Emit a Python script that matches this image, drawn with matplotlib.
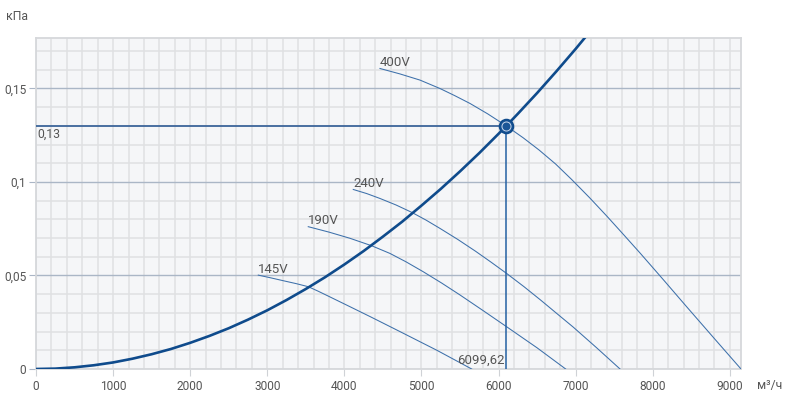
import numpy as np
import matplotlib
matplotlib.use("Agg")
import matplotlib.pyplot as plt
from matplotlib.ticker import MultipleLocator, FuncFormatter

plt.rcParams["font.family"] = ["Roboto", "DejaVu Sans"]

# ── Data ──────────────────────────────────────────────────────────────────────

# system (network) curve, m3/h vs kPa
sys_q = [0, 250, 500, 750, 1000, 1250, 1500, 1750, 2000, 2250, 2500, 2750,
         3000, 3250, 3500, 3750, 4000, 4250, 4500, 4750, 5000, 5250, 5500,
         5750, 6000, 6099.62, 6250, 6500, 6750, 7000, 7250]
sys_p = [0, 0.0002, 0.0009, 0.0020, 0.0035, 0.0055, 0.0079, 0.0107, 0.0140,
         0.0177, 0.0218, 0.0264, 0.0314, 0.0369, 0.0428, 0.0491, 0.0559,
         0.0631, 0.0708, 0.0788, 0.0874, 0.0963, 0.1057, 0.1155, 0.1258,
         0.1300, 0.1365, 0.1476, 0.1592, 0.1712, 0.1837]

# fan curves for each voltage
q_400 = [4461, 4720, 4980, 5239, 5430, 5629, 5860, 6099.62, 6320, 6525,
         6740, 6951, 7180, 7405, 7620, 7833, 8140, 8443, 8800, 9144]
p_400 = [0.1607, 0.1578, 0.1545, 0.1500, 0.1462, 0.1420, 0.1364, 0.1300,
         0.1236, 0.1171, 0.1096, 0.1012, 0.0916, 0.0817, 0.0719, 0.0621,
         0.0476, 0.0331, 0.0162, 0.0]

q_240 = [4115, 4290, 4461, 4670, 4872, 5060, 5239, 5470, 5700, 5900, 6104,
         6330, 6550, 6760, 6968, 7270, 7575]
p_240 = [0.0960, 0.0938, 0.0912, 0.0877, 0.0838, 0.0796, 0.0752, 0.0693,
         0.0630, 0.0572, 0.0511, 0.0440, 0.0367, 0.0295, 0.0224, 0.0114, 0.0]

q_190 = [3531, 3800, 4072, 4354, 4591, 4800, 5023, 5260, 5499, 5800, 6104,
         6500, 6870]
p_190 = [0.0761, 0.0732, 0.0699, 0.0659, 0.0618, 0.0573, 0.0520, 0.0460,
         0.0396, 0.0312, 0.0226, 0.0113, 0.0]

q_145 = [2883, 3050, 3208, 3380, 3532, 3660, 3800, 4073, 4354, 4721, 5200,
         5651]
p_145 = [0.0502, 0.0487, 0.0472, 0.0456, 0.0440, 0.0416, 0.0388, 0.0333,
         0.0276, 0.0200, 0.0100, 0.0]

fan_curves = [("400V", q_400, p_400), ("240V", q_240, p_240),
              ("190V", q_190, p_190), ("145V", q_145, p_145)]

# operating point
op_q = 6099.62
op_p = 0.13

text_col = "#555555"

# ── Figure ────────────────────────────────────────────────────────────────────

fig = plt.figure(figsize=(7.86, 3.95), dpi=100)
ax = fig.add_axes([36 / 786, 1 - 369 / 395, (741 - 36) / 786, (369 - 38) / 395])
ax.set_facecolor("#f5f6f8")

ax.set_xlim(0, 9144)
ax.set_ylim(0, 0.177)

# grid: light minor lines, bluish major horizontals
ax.xaxis.set_major_locator(MultipleLocator(1000))
ax.xaxis.set_minor_locator(MultipleLocator(200))
ax.yaxis.set_major_locator(MultipleLocator(0.05))
ax.yaxis.set_minor_locator(MultipleLocator(0.01))
ax.grid(which="minor", color="#dfe0e3", linewidth=1.1)
ax.grid(which="major", axis="x", color="#dfe0e3", linewidth=1.1)
ax.grid(which="major", axis="y", color="#aab6c6", linewidth=1.0)
ax.set_axisbelow(True)

for s in ax.spines.values():
    s.set_color("#d6d8db")
    s.set_linewidth(1.3)

ax.tick_params(which="minor", length=0)
ax.tick_params(axis="x", which="major", length=5, color="#cfd2d6",
               labelsize=8.6, labelcolor=text_col, pad=3)
ax.tick_params(axis="y", which="major", length=5, color="#aab6c6",
               labelsize=8.6, labelcolor=text_col, pad=2)


def comma_fmt(v, pos):
    s = ("%.2f" % v).rstrip("0").rstrip(".")
    return s.replace(".", ",")


ax.yaxis.set_major_formatter(FuncFormatter(comma_fmt))
ax.xaxis.set_major_formatter(FuncFormatter(lambda v, p: "%d" % v))

# fan curves
for name, q, p in fan_curves:
    ax.plot(q, p, color="#3d70aa", linewidth=0.75, zorder=3)
    ax.text(q[0], p[0] + 0.0013, name, fontsize=9.5, color=text_col,
            ha="left", va="baseline", zorder=5)

# system curve
ax.plot(sys_q, sys_p, color="#0f4b8c", linewidth=1.9, zorder=4,
        solid_capstyle="butt")

# operating point guides
ax.plot([0, op_q], [op_p, op_p], color="#1f4f8d", linewidth=1.1, zorder=4)
ax.plot([op_q, op_q], [0, op_p], color="#2460a3", linewidth=1.1, zorder=4)
ax.plot(op_q, op_p, "o", markersize=10, markerfacecolor="#1a5596",
        markeredgecolor="#0f4b8c", markeredgewidth=1.2, zorder=6)
ax.plot(op_q, op_p, "o", markersize=6.5, markerfacecolor="#1a5596",
        markeredgecolor="#c9d7ea", markeredgewidth=0.7, zorder=7)

ax.text(15, op_p - 0.0012, "0,13", fontsize=8.8, color=text_col,
        ha="left", va="top", zorder=5)
ax.text(op_q - 25, 0.0010, "6099,62", fontsize=9.5, color=text_col,
        ha="right", va="bottom", zorder=5)

# axis units
fig.text(6 / 786, 1 - 17 / 395, "кПа", fontsize=8.8, color=text_col,
         ha="left", va="center")
fig.text(757 / 786, 1 - 386 / 395, "м³/ч", fontsize=8.8, color=text_col,
         ha="left", va="center")

fig.savefig("out.png", dpi=100)
